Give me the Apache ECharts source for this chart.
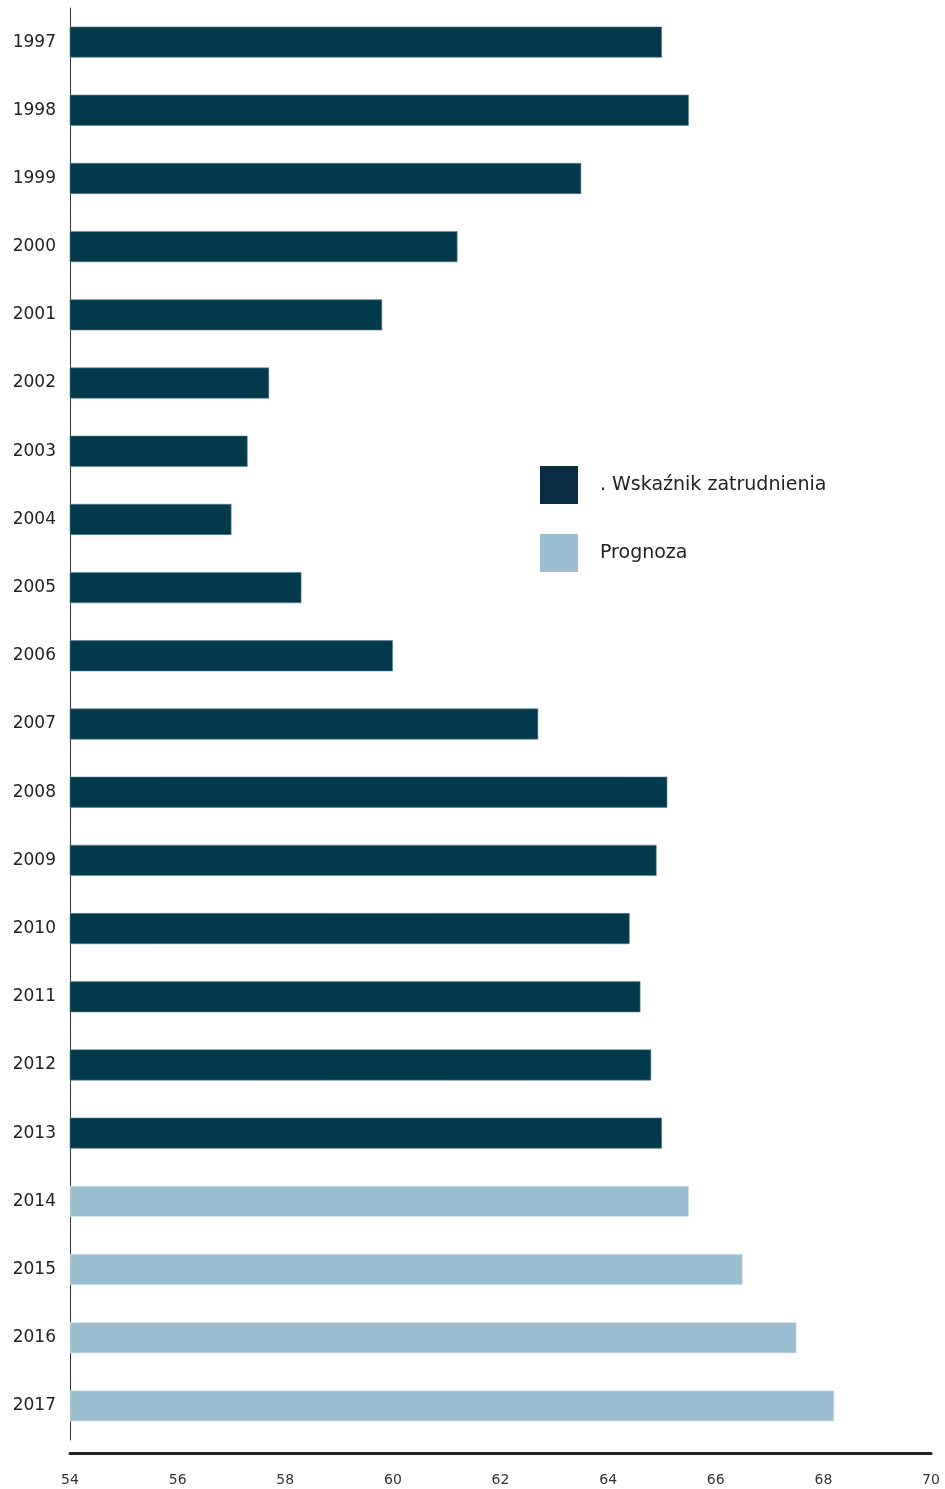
<!DOCTYPE html>
<html>
<head>
<meta charset="utf-8">
<script src="https://cdn.jsdelivr.net/npm/echarts@6/dist/echarts.min.js"></script>
<style>
html, body { margin: 0; padding: 0; background: #fff; }
#main { width: 945px; height: 1489px; }
</style>
</head>
<body>
<div id="main"></div>
<script>
var years = ['1997', '1998', '1999', '2000', '2001', '2002', '2003', '2004', '2005', '2006', '2007',
    '2008', '2009', '2010', '2011', '2012', '2013', '2014', '2015', '2016', '2017'];
var actual = [65.0, 65.5, 63.5, 61.2, 59.8, 57.7, 57.3, 57.0, 58.3, 60.0, 62.7,
    65.1, 64.9, 64.4, 64.6, 64.8, 65.0, '-', '-', '-', '-'];
var forecast = ['-', '-', '-', '-', '-', '-', '-', '-', '-', '-', '-',
    '-', '-', '-', '-', '-', '-', 65.5, 66.5, 67.5, 68.2];
var xTicks = [54, 70, 2];

var myChart = echarts.init(document.getElementById('main'));
var option = {
    animation: false,
    textStyle: { fontFamily: 'DejaVu Sans' },
    grid: { left: 70, right: 14, top: 8, bottom: 49, outerBoundsMode: 'none' },
    legend: {
        orient: 'vertical',
        left: 540,
        top: 466,
        padding: 0,
        itemWidth: 38,
        itemHeight: 38,
        itemGap: 30,
        textStyle: { fontSize: 19, color: '#222', padding: [3, 0, 0, 17] },
        data: [
            { name: '. Wskaźnik zatrudnienia', icon: 'rect', itemStyle: { color: '#0b2d44', borderWidth: 0 } },
            { name: 'Prognoza', icon: 'rect', itemStyle: { color: '#9abdd0', borderWidth: 0 } }
        ]
    },
    xAxis: {
        type: 'value',
        min: xTicks[0],
        max: xTicks[1],
        interval: xTicks[2],
        offset: 13,
        axisLine: { show: true, lineStyle: { color: '#222', width: 3 } },
        axisTick: { show: false },
        splitLine: { show: false },
        axisLabel: { color: '#333', fontSize: 14, margin: 20 }
    },
    yAxis: {
        type: 'category',
        data: years,
        inverse: true,
        axisLine: { show: true, lineStyle: { color: '#333', width: 1 } },
        axisTick: { show: false },
        axisLabel: { color: '#222', fontSize: 17, margin: 14 }
    },
    series: [{
            name: '. Wskaźnik zatrudnienia',
            type: 'bar',
            barWidth: 31,
            barGap: '-100%',
            itemStyle: { color: '#023a4c', borderColor: '#5d8397', borderWidth: 0.6 },
            data: actual
        },
        {
            name: 'Prognoza',
            type: 'bar',
            barWidth: 31,
            itemStyle: { color: '#9abdd0', borderColor: '#d8e6ee', borderWidth: 0.6 },
            data: forecast
        }
    ]
};
myChart.setOption(option);
</script>
</body>
</html>
